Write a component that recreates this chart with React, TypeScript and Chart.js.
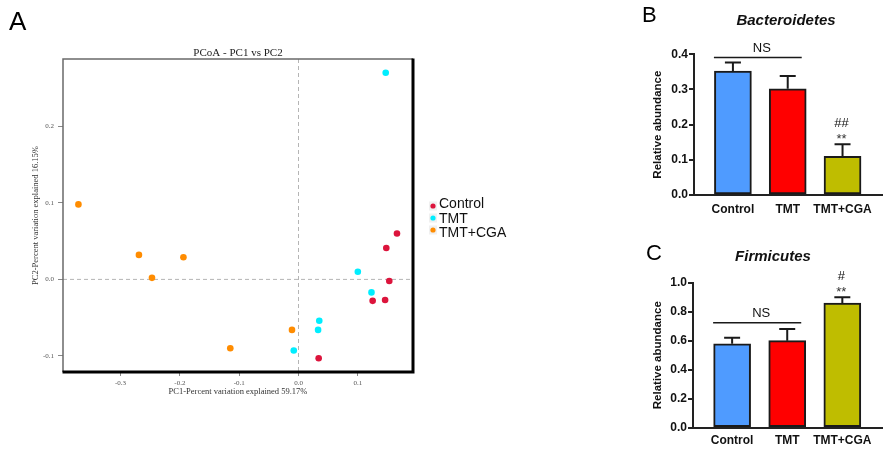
import React, { useEffect, useRef } from "react";
import { Chart, registerables } from "chart.js";

Chart.register(...registerables);

// ---------- data ----------
const groups = ["Control", "TMT", "TMT+CGA"];

const controlPC1 = [0.166, 0.148, 0.153, 0.125, 0.146, 0.034];
const controlPC2 = [0.06, 0.041, -0.002, -0.028, -0.027, -0.103];
const tmtPC1 = [0.147, 0.1, 0.123, 0.035, 0.033, -0.008];
const tmtPC2 = [0.27, 0.01, -0.017, -0.054, -0.066, -0.093];
const cgaPC1 = [-0.371, -0.269, -0.194, -0.247, -0.115, -0.011];
const cgaPC2 = [0.098, 0.032, 0.029, 0.002, -0.09, -0.066];
const pc1Ticks = [-0.3, -0.2, -0.1, 0.0, 0.1];
const pc2Ticks = [-0.1, 0.0, 0.1, 0.2];

const bacteroidetesMean = [0.352, 0.302, 0.11];
const bacteroidetesSem = [0.025, 0.036, 0.034];
const bacteroidetesTicks = [0, 0.1, 0.2, 0.3, 0.4];
const bacteroidetesNS = 0.391;

const firmicutesMean = [0.579, 0.6, 0.86];
const firmicutesSem = [0.042, 0.081, 0.039];
const firmicutesTicks = [0, 0.2, 0.4, 0.6, 0.8, 1.0];
const firmicutesNS = 0.724;

// ---------- styles ----------
const SERIF = "'Liberation Serif', 'Times New Roman', serif";
const SANS = "'Liberation Sans', Arial, sans-serif";
const pointColors = ["#dc143c", "#00eeff", "#ff8c00"];
const barColors = ["#4f9bff", "#ff0000", "#bfbd00"];

function scatterConfig(): any {
  const sets = [
    [controlPC1, controlPC2],
    [tmtPC1, tmtPC2],
    [cgaPC1, cgaPC2],
  ];
  const pcoaPlugin = {
    id: "pcoaDecor",
    beforeDatasetsDraw(chart: any) {
      const { ctx, chartArea: a, scales } = chart;
      const x0 = scales.x.getPixelForValue(0);
      const y0 = scales.y.getPixelForValue(0);
      ctx.save();
      ctx.strokeStyle = "#b5b5b5";
      ctx.lineWidth = 1;
      ctx.setLineDash([4, 3]);
      ctx.beginPath();
      ctx.moveTo(x0, a.top);
      ctx.lineTo(x0, a.bottom);
      ctx.moveTo(a.left, y0);
      ctx.lineTo(a.right, y0);
      ctx.stroke();
      ctx.restore();
    },
    afterDraw(chart: any) {
      const { ctx, chartArea: a } = chart;
      ctx.save();
      // frame
      ctx.strokeStyle = "#6a6a6a";
      ctx.lineWidth = 1.5;
      ctx.beginPath();
      ctx.moveTo(a.left, a.bottom);
      ctx.lineTo(a.left, a.top);
      ctx.lineTo(a.right, a.top);
      ctx.stroke();
      ctx.strokeStyle = "#000";
      ctx.lineWidth = 3;
      ctx.beginPath();
      ctx.moveTo(a.right, a.top - 0.5);
      ctx.lineTo(a.right, a.bottom);
      ctx.lineTo(a.left - 0.5, a.bottom);
      ctx.stroke();
      // title
      ctx.fillStyle = "#222";
      ctx.font = `11px ${SERIF}`;
      ctx.textAlign = "center";
      ctx.textBaseline = "alphabetic";
      ctx.fillText("PCoA - PC1 vs PC2", (a.left + a.right) / 2, 55.5);
      // panel letter
      ctx.fillStyle = "#000";
      ctx.font = `26px ${SANS}`;
      ctx.textAlign = "left";
      ctx.fillText("A", 9, 29.5);
      // legend
      chart.data.datasets.forEach((ds: any, i: number) => {
        const my = 206 + 12 * i;
        ctx.fillStyle = "#f0f0f0";
        ctx.fillRect(429, my - 4.5, 8, 9);
        ctx.fillStyle = ds.backgroundColor;
        ctx.beginPath();
        ctx.arc(433, my, 2.6, 0, Math.PI * 2);
        ctx.fill();
        ctx.fillStyle = "#111";
        ctx.font = `14px ${SANS}`;
        ctx.fillText(ds.label, 439, 208.3 + 14.2 * i);
      });
      ctx.restore();
    },
  };
  return {
    type: "scatter",
    data: {
      datasets: sets.map(([xs, ys], g) => ({
        label: groups[g],
        data: xs.map((x, i) => ({ x, y: ys[i] })),
        backgroundColor: pointColors[g],
        borderWidth: 0,
        pointRadius: 3.3,
      })),
    },
    options: {
      animation: false,
      responsive: false,
      events: [],
      layout: { padding: { top: 59, right: 187, left: 0, bottom: 0 } },
      plugins: { legend: { display: false }, tooltip: { enabled: false } },
      scales: {
        x: {
          type: "linear",
          min: -0.397,
          max: 0.193,
          afterBuildTicks: (s: any) => {
            s.ticks = pc1Ticks.map((v) => ({ value: v }));
          },
          afterFit: (s: any) => {
            s.height = 80;
          },
          ticks: {
            callback: (v: any) => Number(v).toFixed(1),
            font: { family: SERIF, size: 7 },
            color: "#555",
            padding: 3,
            autoSkip: false,
            maxRotation: 0,
          },
          grid: { drawOnChartArea: false, drawTicks: true, tickLength: 4, color: "#888" },
          border: { display: false },
          title: {
            display: true,
            text: "PC1-Percent variation explained 59.17%",
            font: { family: SERIF, size: 8.5 },
            color: "#333",
            padding: { top: 0, bottom: 55.2 },
          },
        },
        y: {
          type: "linear",
          min: -0.121,
          max: 0.288,
          afterBuildTicks: (s: any) => {
            s.ticks = pc2Ticks.map((v) => ({ value: v }));
          },
          afterFit: (s: any) => {
            s.width = 63;
          },
          ticks: {
            callback: (v: any) => Number(v).toFixed(1),
            font: { family: SERIF, size: 7 },
            color: "#555",
            padding: 4,
            autoSkip: false,
          },
          grid: { drawOnChartArea: false, drawTicks: true, tickLength: 5, color: "#888" },
          border: { display: false },
          title: {
            display: true,
            text: "PC2-Percent variation explained 16.15%",
            font: { family: SERIF, size: 8.5 },
            color: "#333",
            padding: { top: 30.9, bottom: 0 },
          },
        },
      },
    },
    plugins: [pcoaPlugin],
  };
}

interface BarSpec {
  title: string;
  titleX: number;
  titleY: number;
  letter: string;
  letterX: number;
  letterY: number;
  mean: number[];
  sem: number[];
  ticks: number[];
  ns: number;
  sig: string;
  padTop: number;
  axisW: number;
  xHeight: number;
  labelPad: number;
}

function barConfig(p: BarSpec): any {
  const barPlugin = {
    id: "barDecor",
    afterDatasetsDraw(chart: any) {
      const { ctx, scales } = chart;
      const xs = scales.x;
      const ys = scales.y;
      ctx.save();
      ctx.strokeStyle = "#1a1a1a";
      ctx.lineWidth = 2;
      p.mean.forEach((m, i) => {
        const x = xs.getPixelForValue(i);
        const yb = ys.getPixelForValue(m);
        const yt = ys.getPixelForValue(m + p.sem[i]);
        ctx.beginPath();
        ctx.moveTo(x, yb);
        ctx.lineTo(x, yt);
        ctx.moveTo(x - 8, yt);
        ctx.lineTo(x + 8, yt);
        ctx.stroke();
      });
      // NS bracket
      const nx0 = xs.getPixelForValue(0) - 19;
      const nx1 = xs.getPixelForValue(1) + 14;
      const ny = ys.getPixelForValue(p.ns);
      ctx.lineWidth = 1.5;
      ctx.beginPath();
      ctx.moveTo(nx0, ny);
      ctx.lineTo(nx1, ny);
      ctx.stroke();
      ctx.fillStyle = "#111";
      ctx.textAlign = "center";
      ctx.textBaseline = "alphabetic";
      ctx.font = `13px ${SANS}`;
      ctx.fillText("NS", (nx0 + nx1) / 2 + 4, ny - 5.5);
      // significance marks over the last bar
      const last = p.mean.length - 1;
      const sx = xs.getPixelForValue(last) - 1;
      const st = ys.getPixelForValue(p.mean[last] + p.sem[last]);
      ctx.fillStyle = "#333";
      ctx.font = `13px ${SANS}`;
      ctx.fillText("**", sx, st - 1.5);
      ctx.fillStyle = "#111";
      ctx.fillText(p.sig, sx, st - 17.5);
      // title
      ctx.font = `italic bold 15px ${SANS}`;
      ctx.textBaseline = "middle";
      ctx.fillText(p.title, p.titleX, p.titleY);
      // panel letter
      ctx.fillStyle = "#000";
      ctx.textAlign = "left";
      ctx.textBaseline = "alphabetic";
      ctx.font = `22px ${SANS}`;
      ctx.fillText(p.letter, p.letterX, p.letterY);
      ctx.restore();
    },
  };
  return {
    type: "bar",
    data: {
      datasets: [
        {
          data: p.mean.map((y, i) => ({ x: i, y })),
          backgroundColor: barColors,
          borderColor: "#1a1a1a",
          borderWidth: 2,
          borderSkipped: false,
          barThickness: 37,
        },
      ],
    },
    options: {
      animation: false,
      responsive: false,
      events: [],
      layout: { padding: { top: p.padTop, right: 1, left: 0, bottom: 0 } },
      plugins: { legend: { display: false }, tooltip: { enabled: false } },
      scales: {
        x: {
          type: "linear",
          offset: false,
          min: -0.71,
          max: 2.72,
          afterBuildTicks: (s: any) => {
            s.ticks = groups.map((_, i) => ({ value: i }));
          },
          afterFit: (s: any) => {
            s.height = p.xHeight;
          },
          ticks: {
            callback: (v: any) => groups[Math.round(Number(v))],
            font: { family: SANS, size: 12, weight: "bold" },
            color: "#111",
            padding: p.labelPad,
            autoSkip: false,
            maxRotation: 0,
          },
          grid: { display: false, drawTicks: false, offset: false },
          border: { display: true, color: "#222", width: 2 },
        },
        y: {
          type: "linear",
          min: 0,
          max: p.ticks[p.ticks.length - 1],
          afterBuildTicks: (s: any) => {
            s.ticks = p.ticks.map((v) => ({ value: v }));
          },
          afterFit: (s: any) => {
            s.width = p.axisW;
          },
          ticks: {
            callback: (v: any) => Number(v).toFixed(1),
            font: { family: SANS, size: 12, weight: "bold" },
            color: "#111",
            padding: 1,
            autoSkip: false,
          },
          grid: { drawOnChartArea: false, drawTicks: true, tickLength: 5, color: "#222", lineWidth: 2 },
          border: { display: true, color: "#222", width: 2 },
          title: {
            display: true,
            text: "Relative abundance",
            font: { family: SANS, size: 11.5, weight: "bold" },
            color: "#111",
            padding: { top: 51.4, bottom: 0 },
          },
        },
      },
    },
    plugins: [barPlugin],
  };
}

function ChartCanvas(props: { config: () => any; left: number; top: number; width: number; height: number }) {
  const ref = useRef<HTMLCanvasElement | null>(null);
  useEffect(() => {
    if (!ref.current) return;
    const chart = new Chart(ref.current, props.config());
    return () => chart.destroy();
  }, []);
  return (
    <canvas
      ref={ref}
      width={props.width}
      height={props.height}
      style={{
        position: "absolute",
        left: props.left,
        top: props.top,
        width: props.width,
        height: props.height,
      }}
    />
  );
}

export default function App() {
  return (
    <div
      style={{
        position: "fixed",
        left: 0,
        top: 0,
        width: 883,
        height: 452,
        background: "#fff",
        overflow: "hidden",
      }}
    >
      <ChartCanvas config={scatterConfig} left={0} top={0} width={600} height={452} />
      <ChartCanvas
        config={() =>
          barConfig({
            title: "Bacteroidetes",
            titleX: 186,
            titleY: 20.7,
            letter: "B",
            letterX: 42,
            letterY: 21.7,
            mean: bacteroidetesMean,
            sem: bacteroidetesSem,
            ticks: bacteroidetesTicks,
            ns: bacteroidetesNS,
            sig: "##",
            padTop: 54.3,
            axisW: 94,
            xHeight: 35,
            labelPad: 7,
          })
        }
        left={600}
        top={0}
        width={283}
        height={230}
      />
      <ChartCanvas
        config={() =>
          barConfig({
            title: "Firmicutes",
            titleX: 173,
            titleY: 26.7,
            letter: "C",
            letterX: 46,
            letterY: 30,
            mean: firmicutesMean,
            sem: firmicutesSem,
            ticks: firmicutesTicks,
            ns: firmicutesNS,
            sig: "#",
            padTop: 52.7,
            axisW: 93,
            xHeight: 24.3,
            labelPad: 6,
          })
        }
        left={600}
        top={230}
        width={283}
        height={222}
      />
    </div>
  );
}
